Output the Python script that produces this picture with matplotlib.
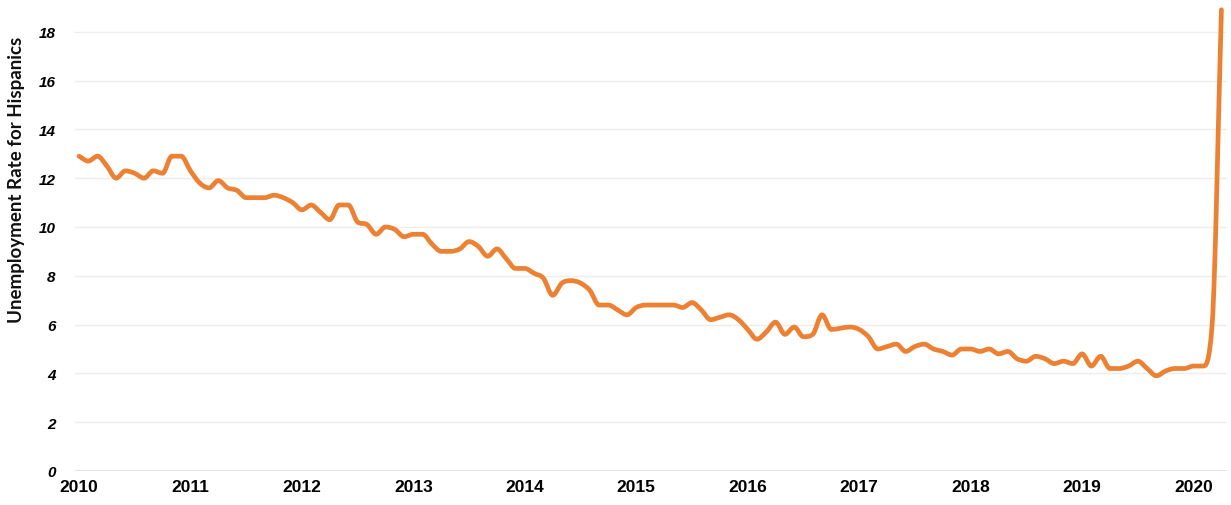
import numpy as np
import matplotlib
matplotlib.use("Agg")
from matplotlib import pyplot as plt
from matplotlib.path import Path
from matplotlib.patches import PathPatch

# monthly Hispanic unemployment rate, Jan 2010 - Apr 2020
rate_2010 = [12.9, 12.7, 12.9, 12.5, 12.0, 12.3, 12.2, 12.0, 12.3, 12.2, 12.9, 12.9]
rate_2011 = [12.3, 11.8, 11.6, 11.9, 11.6, 11.5, 11.2, 11.2, 11.2, 11.3, 11.2, 11.0]
rate_2012 = [10.7, 10.9, 10.6, 10.3, 10.9, 10.9, 10.2, 10.1, 9.7, 10.0, 9.9, 9.6]
rate_2013 = [9.7, 9.7, 9.3, 9.0, 9.0, 9.1, 9.4, 9.2, 8.8, 9.1, 8.7, 8.3]
rate_2014 = [8.3, 8.1, 7.9, 7.2, 7.7, 7.8, 7.7, 7.4, 6.8, 6.8, 6.6, 6.4]
rate_2015 = [6.7, 6.8, 6.8, 6.8, 6.8, 6.7, 6.9, 6.6, 6.2, 6.3, 6.4, 6.2]
rate_2016 = [5.8, 5.4, 5.7, 6.1, 5.6, 5.9, 5.5, 5.6, 6.4, 5.8, 5.85, 5.9]
rate_2017 = [5.8, 5.5, 5.0, 5.1, 5.2, 4.9, 5.1, 5.2, 5.0, 4.9, 4.75, 5.0]
rate_2018 = [5.0, 4.9, 5.0, 4.8, 4.9, 4.6, 4.5, 4.7, 4.6, 4.4, 4.5, 4.4]
rate_2019 = [4.8, 4.3, 4.7, 4.2, 4.2, 4.3, 4.5, 4.2, 3.9, 4.1, 4.2, 4.2]
rate_2020 = [4.3, 4.3, 6.0, 18.9]

rates = (rate_2010 + rate_2011 + rate_2012 + rate_2013 + rate_2014 + rate_2015
         + rate_2016 + rate_2017 + rate_2018 + rate_2019 + rate_2020)
years = [str(y) for y in range(2010, 2021)]

x = np.arange(len(rates), dtype=float)
y = np.array(rates, dtype=float)

# smooth tangents: catmull-rom style, limited so the curve doesn't overshoot
d = np.diff(y)
m = np.zeros_like(y)
m[0], m[-1] = d[0], d[-1]
for i in range(1, len(y) - 1):
    if d[i - 1] * d[i] > 0:
        t = 0.5 * (d[i - 1] + d[i])
        lim = 3 * min(abs(d[i - 1]), abs(d[i]))
        m[i] = np.sign(t) * min(abs(t), lim)

verts = [(x[0], y[0])]
codes = [Path.MOVETO]
for i in range(len(y) - 1):
    verts += [(x[i] + 1 / 3, y[i] + m[i] / 3),
              (x[i + 1] - 1 / 3, y[i + 1] - m[i + 1] / 3),
              (x[i + 1], y[i + 1])]
    codes += [Path.CURVE4] * 3

fig = plt.figure(figsize=(12.31, 5.06), dpi=100)
ax = fig.add_axes([75 / 1231, 34 / 506, 1152 / 1231, 471 / 506])

ax.add_patch(PathPatch(Path(verts, codes), fill=False, edgecolor="#ED8133",
                       linewidth=3.4, capstyle="round", joinstyle="round", zorder=3))

ax.set_xlim(-0.43, 123.6)
ax.set_ylim(0, 19.3)

ax.set_yticks(range(0, 20, 2))
ax.set_xticks(range(0, 121, 12))
ax.set_xticklabels(years)
ax.grid(axis="y", color="#EDEDED", linewidth=1)
ax.axhline(0, color="#DCDCDC", linewidth=1.2, zorder=1)
ax.set_axisbelow(True)
for s in ax.spines.values():
    s.set_visible(False)
ax.tick_params(length=0)
ax.tick_params(axis="y", pad=14)
ax.tick_params(axis="x", pad=6)
for lab in ax.get_yticklabels():
    lab.set_fontfamily("Liberation Sans")
    lab.set_fontweight("bold")
    lab.set_fontstyle("italic")
    lab.set_fontsize(11)
for lab in ax.get_xticklabels():
    lab.set_fontfamily("Liberation Sans")
    lab.set_fontweight("bold")
    lab.set_fontsize(12.5)

fig.text(17 / 1231, 1 - 180 / 506, "Unemployment Rate for Hispanics",
         rotation=90, va="center", ha="center", fontsize=13.5,
         fontfamily="Lato", fontweight="bold", color="#111111")

fig.savefig("out.png", dpi=100, facecolor="white")
